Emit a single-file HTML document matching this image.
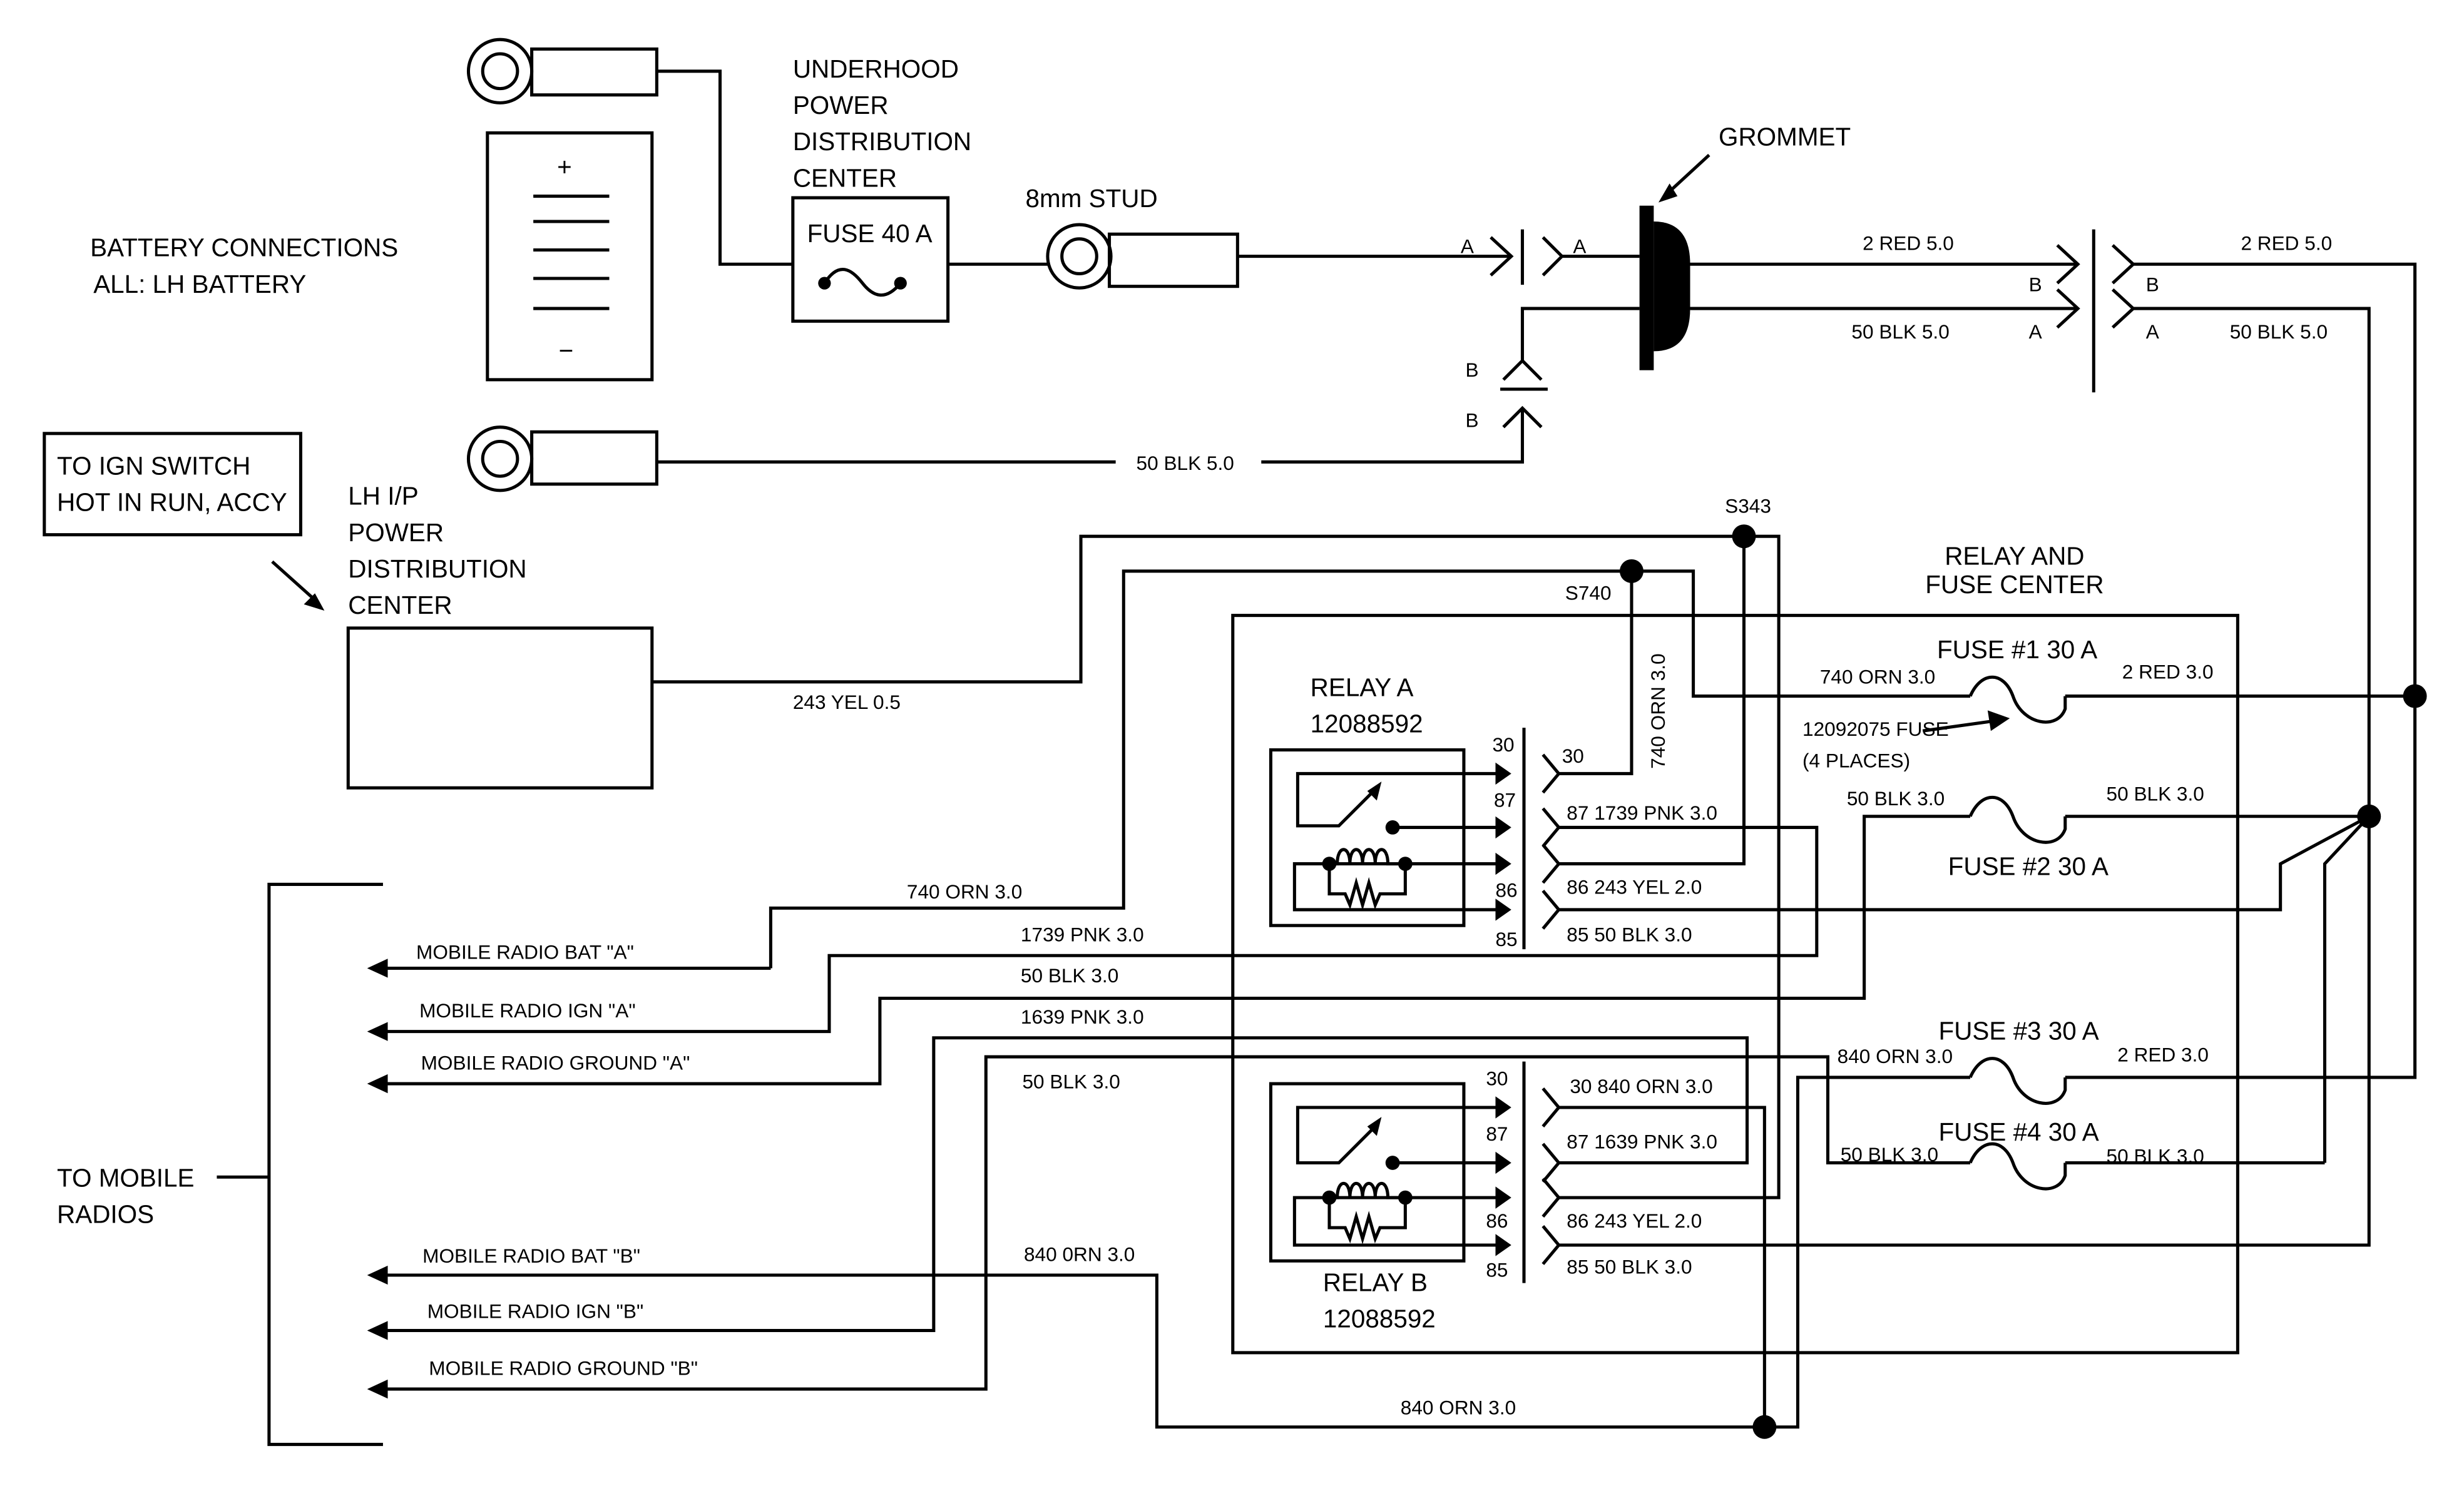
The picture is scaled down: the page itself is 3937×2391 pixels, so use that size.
<!DOCTYPE html>
<html><head><meta charset="utf-8"><style>
html,body{margin:0;padding:0;background:#fff;}
svg{display:block;}
text{font-family:"Liberation Sans",sans-serif;fill:#000;}
.s{font-size:12.5px;}
.m{font-size:16px;}
</style></head><body>
<svg width="3937" height="2391" viewBox="0 0 1557 945.6" xmlns="http://www.w3.org/2000/svg">
<rect width="1557" height="946" fill="#fff"/>
<g fill="none" stroke="#000" stroke-width="2">
<!-- top battery terminal -->
<circle cx="316" cy="45" r="20"/><circle cx="316" cy="45" r="11"/>
<rect x="336" y="31" width="79" height="29"/>
<polyline points="415,45 455,45 455,167 501,167"/>
<!-- battery -->
<rect x="308" y="84" width="104" height="156"/>
<line x1="337" y1="124" x2="385" y2="124"/><line x1="337" y1="140" x2="385" y2="140"/>
<line x1="337" y1="158" x2="385" y2="158"/><line x1="337" y1="176" x2="385" y2="176"/>
<line x1="337" y1="195" x2="385" y2="195"/>
<!-- underhood fuse -->
<rect x="501" y="125" width="98" height="78"/>
<path d="M521,179 C530,165 538,170 545,179 C552,188 560,190 569,179"/>
<line x1="599" y1="167" x2="662" y2="167"/>
<circle cx="682" cy="162" r="20"/><circle cx="682" cy="162" r="11"/>
<rect x="701" y="148" width="81" height="33"/>
<line x1="782" y1="162" x2="955" y2="162"/>
<polyline points="942,150 955,162 942,174"/>
<line x1="962" y1="145" x2="962" y2="180"/>
<polyline points="975,150 987,162 975,174"/>
<line x1="987" y1="162" x2="1036" y2="162"/>
<!-- right of grommet -->
<line x1="1068" y1="167" x2="1313" y2="167"/>
<polyline points="1300,155 1313,167 1300,179"/>
<line x1="1068" y1="195" x2="1313" y2="195"/>
<polyline points="1300,183 1313,195 1300,207"/>
<line x1="1323" y1="145" x2="1323" y2="248"/>
<polyline points="1335,155 1348,167 1335,179"/>
<polyline points="1335,183 1348,195 1335,207"/>
<polyline points="1348,167 1526,167 1526,681 1305,681"/>
<polyline points="1348,195 1497,195 1497,787 985,787"/>
<!-- B vertical connector -->
<polyline points="1036,195 962,195 962,228"/>
<polyline points="950,240 962,228 974,240"/>
<line x1="948" y1="246" x2="978" y2="246"/>
<polyline points="950,270 962,258 974,270"/>
<polyline points="962,258 962,292 797,292"/>
<line x1="415" y1="292" x2="705" y2="292"/>
<!-- bottom battery terminal -->
<circle cx="316" cy="290" r="20"/><circle cx="316" cy="290" r="11"/>
<rect x="336" y="273" width="79" height="33"/>
<!-- ign box -->
<rect x="28" y="274" width="162" height="64"/>
<line x1="172" y1="355" x2="201" y2="381"/>
<!-- LH IP box -->
<rect x="220" y="397" width="192" height="101"/>
<polyline points="412,431 683,431 683,339 1124,339 1124,757 985,757"/>
<polyline points="1102,339 1102,546 985,546"/>
<!-- S740 -->
<polyline points="487,612 487,574 710,574 710,361 1070,361 1070,440 1245,440"/>
<polyline points="1031,361 1031,489 985,489"/>
<!-- relay & fuse center box -->
<rect x="779" y="389" width="635" height="466"/>
<!-- relay A -->
<rect x="803" y="474" width="122" height="111"/>
<polyline points="945,489 820,489 820,522 846,522 870,498"/>
<line x1="880" y1="523" x2="945" y2="523"/>
<polyline points="945,546 818,546 818,575 945,575"/>
<path d="M840,546 L845,546 C845,534 853,534 853,546 C853,534 861,534 861,546 C861,534 869,534 869,546 C869,534 877,534 877,546 L888,546"/>
<polyline points="840,546 840,565 850,565 853,572 857,558 861,572 865,558 869,572 872,565 888,565 888,546"/>
<line x1="963" y1="460" x2="963" y2="600"/>
<polyline points="975,477 985,489 975,501"/>
<polyline points="975,511 985,523 975,535"/>
<polyline points="975,534 985,546 975,558"/>
<polyline points="975,563 985,575 975,587"/>
<polyline points="985,523 1148,523 1148,604 524,604 524,652 244,652"/>
<polyline points="985,575 1441,575 1441,546 1497,516"/>
<polyline points="1469,735 1469,546 1497,516"/>
<polyline points="487,612 244,612"/>
<polyline points="1305,516 1497,516"/>
<polyline points="1245,516 1178,516 1178,631 556,631 556,685 244,685"/>
<!-- relay B -->
<rect x="803" y="685" width="122" height="112"/>
<polyline points="945,700 820,700 820,735 846,735 870,711"/>
<line x1="880" y1="735" x2="945" y2="735"/>
<polyline points="945,757 818,757 818,787 945,787"/>
<path d="M840,757 L845,757 C845,745 853,745 853,757 C853,745 861,745 861,757 C861,745 869,745 869,757 C869,745 877,745 877,757 L888,757"/>
<polyline points="840,757 840,776 850,776 853,783 857,769 861,783 865,769 869,783 872,776 888,776 888,757"/>
<line x1="963" y1="671" x2="963" y2="811"/>
<polyline points="975,688 985,700 975,712"/>
<polyline points="975,723 985,735 975,747"/>
<polyline points="975,745 985,757 975,769"/>
<polyline points="975,775 985,787 975,799"/>
<polyline points="985,700 1115,700 1115,902 731,902 731,806 244,806"/>
<polyline points="1115,902 1136,902 1136,681 1245,681"/>
<polyline points="985,735 1104,735 1104,656 590,656 590,841 244,841"/>
<polyline points="244,878 623,878 623,668 1155,668 1155,735 1245,735"/>
<polyline points="1305,735 1469,735"/>
<polyline points="1305,440 1526,440"/>
<!-- fuses -->
<path d="M1245,440 C1252,424 1266,424 1272,440 C1278,458 1300,462 1305,448 L1305,440"/>
<path d="M1245,516 C1252,500 1266,500 1272,516 C1278,534 1300,538 1305,524 L1305,516"/>
<path d="M1245,681 C1252,665 1266,665 1272,681 C1278,699 1300,703 1305,689 L1305,681"/>
<path d="M1245,735 C1252,719 1266,719 1272,735 C1278,753 1300,757 1305,743 L1305,735"/>
<line x1="1215" y1="462" x2="1258" y2="456"/>
<line x1="1080" y1="98" x2="1055" y2="121"/>
<!-- to mobile radios bracket -->
<polyline points="242,559 170,559 170,913 242,913"/>
<line x1="137" y1="744" x2="170" y2="744"/>
</g>
<g fill="#000">
<!-- grommet -->
<rect x="1036" y="130" width="9" height="104"/>
<path d="M1045,140 Q1068,140 1068,167 L1068,195 Q1068,222 1045,222 Z"/>
<polygon points="1048,128 1060,124 1055,116"/>
<polygon points="205,386 192,382 199,375"/>
<polygon points="1270,454 1256,449 1258,462"/>
<!-- dots -->
<circle cx="521" cy="179" r="4"/><circle cx="569" cy="179" r="4"/>
<circle cx="1102" cy="339" r="7.5"/><circle cx="1031" cy="361" r="7.5"/>
<circle cx="1526" cy="440" r="7.5"/><circle cx="1497" cy="516" r="7.5"/>
<circle cx="1115" cy="902" r="7.5"/>
<circle cx="880" cy="523" r="4.5"/><circle cx="840" cy="546" r="4.5"/><circle cx="888" cy="546" r="4.5"/>
<circle cx="880" cy="735" r="4.5"/><circle cx="840" cy="757" r="4.5"/><circle cx="888" cy="757" r="4.5"/>
<!-- relay arrowheads -->
<polygon points="955,489 945,482 945,496"/><polygon points="955,523 945,516 945,530"/>
<polygon points="955,546 945,539 945,553"/><polygon points="955,575 945,568 945,582"/>
<polygon points="955,700 945,693 945,707"/><polygon points="955,735 945,728 945,742"/>
<polygon points="955,757 945,750 945,764"/><polygon points="955,787 945,780 945,794"/>
<polygon points="873,494 864,500 870,506"/><polygon points="873,706 864,712 870,718"/>
<!-- left arrowheads -->
<polygon points="232,612 245,606 245,618"/><polygon points="232,652 245,646 245,658"/>
<polygon points="232,685 245,679 245,691"/><polygon points="232,806 245,800 245,812"/>
<polygon points="232,841 245,835 245,847"/><polygon points="232,878 245,872 245,884"/>
</g>
<!-- texts -->
<text class="m" x="352" y="111">+</text>
<text class="m" x="353" y="227">−</text>
<text class="m" x="57" y="162">BATTERY CONNECTIONS</text>
<text class="m" x="59" y="185">ALL: LH BATTERY</text>
<text class="m" x="501" y="49">UNDERHOOD</text>
<text class="m" x="501" y="72">POWER</text>
<text class="m" x="501" y="95">DISTRIBUTION</text>
<text class="m" x="501" y="118">CENTER</text>
<text class="m" x="510" y="153">FUSE 40 A</text>
<text class="m" x="648" y="131">8mm STUD</text>
<text class="m" x="1086" y="92">GROMMET</text>
<text class="s" x="923" y="160">A</text>
<text class="s" x="994" y="160">A</text>
<text class="s" x="1177" y="158">2 RED 5.0</text>
<text class="s" x="1282" y="184">B</text>
<text class="s" x="1170" y="214">50 BLK 5.0</text>
<text class="s" x="1282" y="214">A</text>
<text class="s" x="1416" y="158">2 RED 5.0</text>
<text class="s" x="1356" y="184">B</text>
<text class="s" x="1356" y="214">A</text>
<text class="s" x="1409" y="214">50 BLK 5.0</text>
<text class="s" x="926" y="238">B</text>
<text class="s" x="926" y="270">B</text>
<text class="s" x="718" y="297">50 BLK 5.0</text>
<text class="m" x="36" y="300">TO IGN SWITCH</text>
<text class="m" x="36" y="323">HOT IN RUN, ACCY</text>
<text class="m" x="220" y="319">LH I/P</text>
<text class="m" x="220" y="342">POWER</text>
<text class="m" x="220" y="365">DISTRIBUTION</text>
<text class="m" x="220" y="388">CENTER</text>
<text class="s" x="501" y="448">243 YEL 0.5</text>
<text class="s" x="1090" y="324">S343</text>
<text class="s" x="989" y="379">S740</text>
<text class="s" transform="translate(1052,486) rotate(-90)">740 ORN 3.0</text>
<text class="m" x="1273" y="357" text-anchor="middle">RELAY AND</text>
<text class="m" x="1273" y="375" text-anchor="middle">FUSE CENTER</text>
<text class="m" x="828" y="440">RELAY A</text>
<text class="m" x="828" y="463">12088592</text>
<text class="s" x="943" y="475">30</text>
<text class="s" x="944" y="510">87</text>
<text class="s" x="945" y="567">86</text>
<text class="s" x="945" y="598">85</text>
<text class="s" x="987" y="482">30</text>
<text class="s" x="990" y="518">87  1739 PNK 3.0</text>
<text class="s" x="990" y="565">86  243 YEL 2.0</text>
<text class="s" x="990" y="595">85  50 BLK 3.0</text>
<text class="s" x="939" y="686">30</text>
<text class="s" x="939" y="721">87</text>
<text class="s" x="939" y="776">86</text>
<text class="s" x="939" y="807">85</text>
<text class="s" x="992" y="691">30 840 ORN 3.0</text>
<text class="s" x="990" y="726">87 1639 PNK 3.0</text>
<text class="s" x="990" y="776">86  243 YEL 2.0</text>
<text class="s" x="990" y="805">85  50 BLK 3.0</text>
<text class="m" x="836" y="816">RELAY B</text>
<text class="m" x="836" y="839">12088592</text>
<text class="m" x="1224" y="416">FUSE #1 30 A</text>
<text class="s" x="1150" y="432">740 ORN 3.0</text>
<text class="s" x="1341" y="429">2 RED 3.0</text>
<text class="s" x="1139" y="465">12092075 FUSE</text>
<text class="s" x="1139" y="485">(4 PLACES)</text>
<text class="s" x="1167" y="509">50 BLK 3.0</text>
<text class="s" x="1331" y="506">50 BLK 3.0</text>
<text class="m" x="1231" y="553">FUSE #2 30 A</text>
<text class="m" x="1225" y="657">FUSE #3 30 A</text>
<text class="s" x="1161" y="672">840 ORN 3.0</text>
<text class="s" x="1338" y="671">2 RED 3.0</text>
<text class="m" x="1225" y="721">FUSE #4 30 A</text>
<text class="s" x="1163" y="734">50 BLK 3.0</text>
<text class="s" x="1331" y="735">50 BLK 3.0</text>
<text class="s" x="573" y="568">740 ORN 3.0</text>
<text class="s" x="645" y="595">1739 PNK 3.0</text>
<text class="s" x="645" y="621">50 BLK 3.0</text>
<text class="s" x="645" y="647">1639 PNK 3.0</text>
<text class="s" x="646" y="688">50 BLK 3.0</text>
<text class="s" x="647" y="797">840 0RN 3.0</text>
<text class="s" x="885" y="894">840 ORN 3.0</text>
<text class="s" x="263" y="606">MOBILE RADIO BAT "A"</text>
<text class="s" x="265" y="643">MOBILE RADIO IGN "A"</text>
<text class="s" x="266" y="676">MOBILE RADIO GROUND "A"</text>
<text class="s" x="267" y="798">MOBILE RADIO BAT "B"</text>
<text class="s" x="270" y="833">MOBILE RADIO IGN "B"</text>
<text class="s" x="271" y="869">MOBILE RADIO GROUND "B"</text>
<text class="m" x="36" y="750">TO MOBILE</text>
<text class="m" x="36" y="773">RADIOS</text>
</svg>
</body></html>
